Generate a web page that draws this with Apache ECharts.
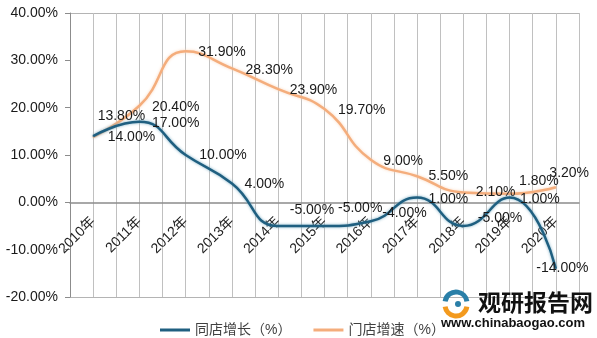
<!DOCTYPE html>
<html><head><meta charset="utf-8">
<script src="https://cdn.jsdelivr.net/npm/echarts@6/dist/echarts.min.js"></script>
<style>html,body{margin:0;padding:0;background:#fff}#c{width:597px;height:338px}</style>
</head><body><div id="c"></div>
<script>
var categories = ['2010年','2011年','2012年','2013年','2014年','2015年','2016年','2017年','2018年','2019年','2020年'];
var sameStore = [14.00, 17.00, 10.00, 4.00, -5.00, -5.00, -4.00, 1.00, -5.00, 1.00, -14.00];
var storeGrowth = [13.80, 20.40, 31.90, 28.30, 23.90, 19.70, 9.00, 5.50, 2.10, 1.80, 3.20];
var seriesNames = ['同店增长（%）', '门店增速（%）'];
var yTicks = [-20, -10, 0, 10, 20, 30, 40];

// label nudges (style, not data)
var sameOff = [[2,1],[0,1],[1,0],[0,1],[-1,-16],[1,-18],[-1,-8],[-1,2],[2,-8],[-2,2],[-32,0]];
var growOff = [[-8,-21],[0,1],[0,1],[1,2],[-1,1],[1,1],[0,1],[-1,0],[0,0],[-3,-13],[-19,-14]];

var FONT = '"Liberation Sans", Arial, "Noto Sans CJK SC", sans-serif';
function mk(vals, offs){
  return vals.map(function(v,i){ return {value:v, label:{offset:offs[i]}}; });
}
var chart = echarts.init(document.getElementById('c'), null, {renderer:'canvas'});
chart.setOption({
  animation:false,
  textStyle:{fontFamily:FONT},
  grid:{left:70, right:18, top:13, bottom:41, containLabel:false, outerBoundsMode:'none'},
  legend:{
    left:155, top:318, itemWidth:30, itemHeight:3, itemGap:22, icon:'rect',
    textStyle:{fontSize:14, color:'#404040', fontFamily:FONT},
    data:seriesNames
  },
  xAxis:[{
    type:'category', data:categories, boundaryGap:true, offset:0,
    axisLine:{onZero:false, lineStyle:{color:'#8c8c8c', width:1.5}},
    axisTick:{show:false},
    axisLabel:{rotate:45, fontSize:14, color:'#222', margin:17, fontFamily:FONT},
    splitLine:{show:false}
  },{
    type:'value', min:0, max:22, interval:1, position:'top',
    axisLine:{show:false}, axisTick:{show:false}, axisLabel:{show:false},
    splitLine:{show:true, lineStyle:{color:'#c0c0c0', width:1}}
  }],
  yAxis:[{
    type:'value', min:yTicks[0], max:yTicks[yTicks.length-1], interval:10,
    axisLine:{show:true, onZero:false, lineStyle:{color:'#8c8c8c', width:1}},
    axisTick:{show:true, length:5, lineStyle:{color:'#8c8c8c'}},
    axisLabel:{fontSize:14, color:'#1a1a1a', margin:12, formatter:function(v){return v.toFixed(2)+'%';}},
    splitLine:{show:false}
  },{
    type:'value', min:0, max:1, interval:1, position:'right',
    axisLine:{show:false}, axisTick:{show:false}, axisLabel:{show:false},
    splitLine:{show:true, lineStyle:{color:'#b4b4b4', width:1}}
  }],
  series:[{
    name:seriesNames[0], type:'line', smooth:0.5, xAxisIndex:0, yAxisIndex:0,
    data:mk(sameStore, sameOff),
    symbol:'circle', symbolSize:1, z:4,
    itemStyle:{color:'#1f5f80'},
    lineStyle:{color:'#1f5f80', width:2.5, shadowColor:'rgba(110,165,190,0.9)', shadowBlur:3},
    label:{show:true, position:'right', distance:12, fontSize:14, color:'#1a1a1a', fontFamily:FONT,
      formatter:function(p){return p.value.toFixed(2)+'%';}}
  },{
    name:seriesNames[1], type:'line', smooth:0.5, xAxisIndex:0, yAxisIndex:0,
    data:mk(storeGrowth, growOff),
    symbol:'circle', symbolSize:1, z:3,
    itemStyle:{color:'#f4ad7c'},
    lineStyle:{color:'#f4ad7c', width:2.5, shadowColor:'rgba(250,210,180,0.9)', shadowBlur:3},
    label:{show:true, position:'right', distance:12, fontSize:14, color:'#1a1a1a', fontFamily:FONT,
      formatter:function(p){return p.value.toFixed(2)+'%';}}
  }],
  graphic:[
    {type:'arc', shape:{cx:456, cy:303, r:11, startAngle:Math.PI*1.05, endAngle:Math.PI*1.95}, style:{stroke:'#2a7fa8', lineWidth:5, fill:null}, z:10},
    {type:'arc', shape:{cx:456, cy:305, r:11, startAngle:Math.PI*0.05, endAngle:Math.PI*0.95}, style:{stroke:'#f39a1e', lineWidth:5, fill:null}, z:10},
    {type:'circle', shape:{cx:458, cy:304, r:3}, style:{fill:'#2a7fa8'}, z:10},
    {type:'text', left:478, top:291, style:{text:'观研报告网', font:'bold 23px "Noto Sans CJK SC"', fill:'#111'}, z:10},
    {type:'text', left:441, top:317, style:{text:'www.chinabaogao.com', font:'bold 13px "Liberation Sans", Arial', fill:'#111'}, z:10}
  ]
});
// move the category axis (line + labels) to the y=0 level using the library's own scale
var yZero = chart.convertToPixel({yAxisIndex:0}, 0);
var yBottom = chart.convertToPixel({yAxisIndex:0}, yTicks[0]);
chart.setOption({xAxis:[{offset: yZero - yBottom}, {}]});
</script></body></html>
